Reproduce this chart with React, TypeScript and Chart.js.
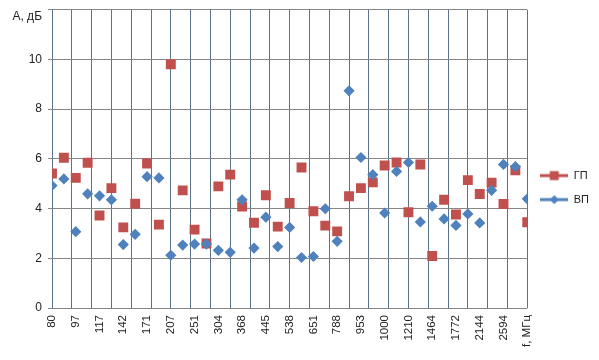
import { useEffect, useRef } from 'react';
import { Chart, registerables } from 'chart.js';

Chart.register(...registerables);

// Category tick labels (every other point is labelled)
const tickLabels = ['80', '97', '117', '142', '171', '207', '251', '304', '368', '445', '538', '651', '788', '953', '1000', '1210', '1464', '1772', '2144', '2594', 'f, МГц'];

// Series values, one per point (41 points)
const gpValues = [5.41, 6.04, 5.23, 5.84, 3.72, 4.82, 3.24, 4.19, 5.81, 3.35, 9.8, 4.73, 3.15, 2.59, 4.89, 5.36, 4.08, 3.43, 4.53, 3.27, 4.22, 5.65, 3.89, 3.31, 3.08, 4.49, 4.82, 5.05, 5.73, 5.85, 3.85, 5.77, 2.09, 4.35, 3.76, 5.14, 4.58, 5.04, 4.18, 5.54, 3.45];
const vpValues = [4.92, 5.19, 3.07, 4.59, 4.51, 4.35, 2.55, 2.96, 5.28, 5.23, 2.12, 2.53, 2.57, 2.57, 2.32, 2.24, 4.35, 2.41, 3.65, 2.47, 3.24, 2.03, 2.07, 3.99, 2.68, 8.73, 6.05, 5.36, 3.82, 5.49, 5.85, 3.46, 4.09, 3.58, 3.32, 3.78, 3.42, 4.73, 5.77, 5.68, 4.39];

const seriesNames = ['ГП', 'ВП'];
const yTitle = 'А, дБ';
const yMax = 12;
const yStep = 2;
const verticalGridCount = 24;

const RED = '#C0504D';
const BLUE = '#4F81BD';
const FONT = 'Liberation Sans, Arial, sans-serif';

function legendIcon(color: string, kind: 'square' | 'diamond') {
  const c = document.createElement('canvas');
  c.width = 28;
  c.height = 12;
  const ctx = c.getContext('2d')!;
  ctx.strokeStyle = color;
  ctx.lineWidth = 3;
  ctx.beginPath();
  ctx.moveTo(0, 6);
  ctx.lineTo(28, 6);
  ctx.stroke();
  ctx.fillStyle = color;
  if (kind === 'square') {
    ctx.fillRect(9.5, 1.5, 9, 9);
  } else {
    ctx.beginPath();
    ctx.moveTo(14, 1.5);
    ctx.lineTo(18.5, 6);
    ctx.lineTo(14, 10.5);
    ctx.lineTo(9.5, 6);
    ctx.closePath();
    ctx.fill();
  }
  return c;
}

export default function App() {
  const ref = useRef<HTMLCanvasElement | null>(null);

  useEffect(() => {
    document.body.style.margin = '0';
    const canvas = ref.current;
    if (!canvas) return;
    const icons = [legendIcon(RED, 'square'), legendIcon(BLUE, 'diamond')];

    const chart = new Chart(canvas, {
      type: 'scatter',
      data: {
        datasets: [
          {
            label: seriesNames[0],
            data: gpValues.map((v, i) => ({ x: i, y: v })),
            backgroundColor: RED,
            borderColor: RED,
            pointStyle: 'rect',
            pointRadius: 7,
            pointBorderWidth: 0,
            showLine: false,
            order: 1,
          },
          {
            label: seriesNames[1],
            data: vpValues.map((v, i) => ({ x: i, y: v })),
            backgroundColor: BLUE,
            borderColor: BLUE,
            pointStyle: 'rectRot',
            pointRadius: 5.6,
            pointBorderWidth: 0,
            showLine: false,
            order: 0,
          },
        ],
      },
      options: {
        animation: false,
        responsive: false,
        layout: { padding: { top: 0, right: 0, left: 0, bottom: 0 } },
        plugins: {
          tooltip: { enabled: false },
          legend: {
            position: 'right',
            title: {
              display: true,
              text: ' ',
              color: 'rgba(0,0,0,0)',
              font: { family: FONT, size: 11 },
              padding: { top: 0, bottom: 2 },
            },
            labels: {
              usePointStyle: true,
              pointStyleWidth: 28,
              padding: 13,
              color: '#222',
              font: { family: FONT, size: 11 },
              generateLabels: () =>
                seriesNames.map((n, i) => ({
                  text: n,
                  pointStyle: icons[i] as any,
                  fillStyle: i === 0 ? RED : BLUE,
                  strokeStyle: i === 0 ? RED : BLUE,
                  lineWidth: 0,
                  hidden: false,
                  datasetIndex: i,
                  fontColor: '#222',
                })),
            },
          },
        },
        scales: {
          x: {
            type: 'linear',
            position: 'bottom',
            min: 0,
            max: (tickLabels.length - 1) * 2,
            grid: { display: false, drawTicks: false },
            border: { display: false },
            afterFit: (s: any) => {
              s.height = 52;
            },
            ticks: {
              stepSize: 2,
              autoSkip: false,
              minRotation: 90,
              maxRotation: 90,
              padding: 7,
              color: '#222',
              font: { family: FONT, size: 11.5 },
              callback: (v: any) => {
                const k = Math.round(Number(v) / 2);
                return Number(v) % 2 === 0 ? tickLabels[k] : '';
              },
            },
          },
          xGrid: {
            type: 'linear',
            position: 'top',
            min: 0,
            max: verticalGridCount,
            grid: { color: '#5A7389', lineWidth: 1, drawTicks: false },
            border: { display: false },
            ticks: { display: false, stepSize: 1 },
          },
          y: {
            min: 0,
            max: yMax,
            grid: { color: '#878787', lineWidth: 1, tickLength: 4 },
            border: { display: false },
            afterFit: (s: any) => {
              s.width = 52;
              s.paddingTop = 9.5;
            },
            ticks: {
              stepSize: yStep,
              padding: 6,
              color: '#222',
              font: { family: FONT, size: 12 },
              callback: (v: any) => (Number(v) === yMax ? ['', yTitle] : String(v)),
            },
          },
        },
      } as any,
    });
    return () => chart.destroy();
  }, []);

  return (
    <div style={{ width: 599, height: 360 }}>
      <canvas ref={ref} width={599} height={360} style={{ display: 'block' }} />
    </div>
  );
}
